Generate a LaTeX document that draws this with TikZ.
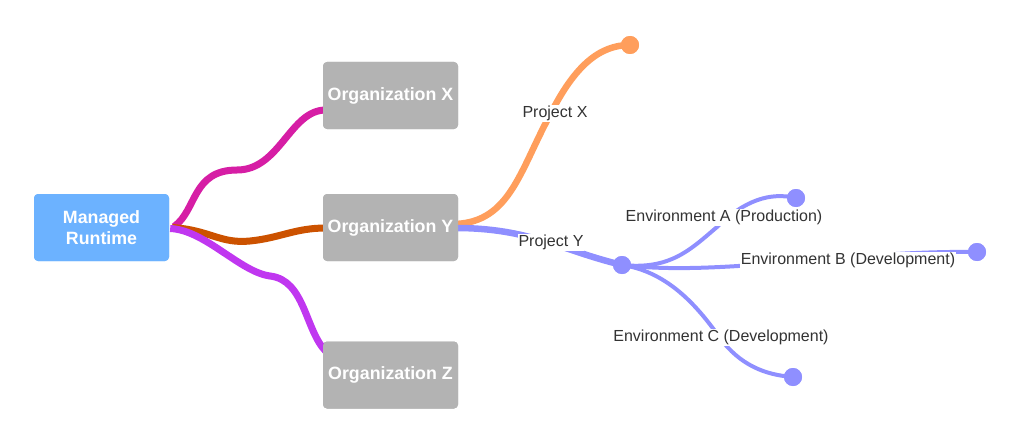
\documentclass[tikz,border=0pt]{standalone}
\usepackage{fontspec}
\setmainfont{Liberation Sans}
\usetikzlibrary{calc}
\definecolor{mrblue}{RGB}{108,178,255}
\definecolor{orggray}{RGB}{179,179,179}
\definecolor{cmag}{RGB}{214,30,165}
\definecolor{cbrown}{RGB}{204,82,0}
\definecolor{cpurp}{RGB}{192,55,240}
\definecolor{corange}{RGB}{255,158,92}
\definecolor{cviolet}{RGB}{143,143,255}
\definecolor{lbltext}{RGB}{51,51,51}
\begin{document}
\begin{tikzpicture}[x=1pt,y=-1pt,
  box/.style={rounded corners=4pt, text=white, font=\fontsize{17.8}{21.5}\selectfont\bfseries, align=center, minimum width=135pt, minimum height=67pt, inner sep=0pt},
  mrbox/.style={box, fill=mrblue},
  orgbox/.style={box, fill=orggray},
  conn/.style={line width=7pt},
  proj/.style={line width=6.5pt},
  envl/.style={line width=4pt},
  dotn/.style={circle, minimum size=18pt, inner sep=0pt},
  lbl/.style={fill=white, text=lbltext, font=\fontsize{16}{18}\selectfont, inner sep=1pt}]
\useasboundingbox (0,0) rectangle (1024,441);

\path
  node[mrbox] (mr) at (101.5,227.5) {Managed\\Runtime}
  node[orgbox] (ox) at (390.5,95.5) {Organization X}
  node[orgbox] (oy) at (390.5,227.5) {Organization Y}
  node[orgbox] (oz) at (390.5,375) {Organization Z};
\node[dotn, fill=corange] (dx) at (630,45) {};
\node[dotn, fill=cviolet] (dy) at (622,265) {};
\node[dotn, fill=cviolet] (da) at (796,198) {};
\node[dotn, fill=cviolet] (db) at (977,252) {};
\node[dotn, fill=cviolet] (dc) at (793,377) {};

% connectors
\draw[conn, cmag] ($(mr.east)+(5,-1)$) .. controls (197,210) and (192,170) .. (237,170)
  .. controls (280,170) and (290,110) .. ($(ox.west)+(3,14.5)$);
\draw[conn, cbrown] ($(mr.east)+(3,0)$) .. controls (210,230) and (220,244) .. (250,241)
  .. controls (280,238) and (295,228) .. ($(oy.west)+(3,0.5)$);
\draw[conn, cpurp] ($(mr.east)+(1,1)$) .. controls (205,230) and (240,272) .. (270,276)
  .. controls (305,280) and (305,330) .. ($(oz.north west)+(3,10)$);

\draw[proj, corange] ($(oy.east)+(-3,-3.5)$) .. controls (510,222) and (520,170) .. (550,115)
  .. controls (575,65) and (600,45) .. (dx.center);
\draw[proj, cviolet] ($(oy.east)+(-3,0.5)$) .. controls (530,228) and (560,250) .. (dy.center);

\draw[envl, cviolet] (dy.center) .. controls (670,270) and (690,250) .. (717,227)
  .. controls (745,200) and (770,192) .. (da.center);
\draw[envl, cviolet] (dy.center) .. controls (720,277) and (850,250) .. (db.center);
\draw[envl, cviolet] (dy.center) .. controls (670,272) and (700,310) .. (720,338)
  .. controls (740,365) and (765,375) .. (dc.center);

% boxes and dots on top
\path
  node[mrbox] at (mr.center) {Managed\\Runtime}
  node[orgbox] at (ox.center) {Organization X}
  node[orgbox] at (oy.center) {Organization Y}
  node[orgbox] at (oz.center) {Organization Z};
\fill[corange] (dx) circle (9);
\fill[cviolet] (dy) circle (9) (da) circle (9) (db) circle (9) (dc) circle (9);

% labels
\node[lbl] (lx) at (555,113.5) {Project X};
\node[lbl] (ly) at (551,242.5) {Project Y};
\node[lbl] (la) at (724,217.5) {Environment A (Production)};
\node[lbl] (lb) at (848,260.5) {Environment B (Development)};
\node[lbl] (lc) at (721,337.5) {Environment C (Development)};
\end{tikzpicture}
\end{document}
